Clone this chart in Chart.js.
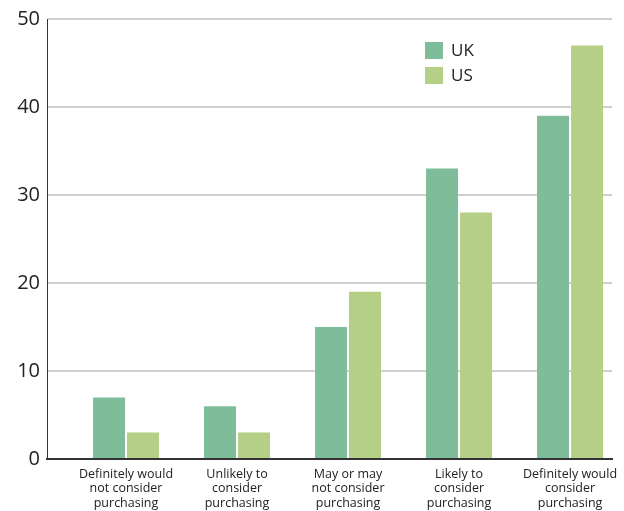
<!DOCTYPE html>
<html lang="en">
<head>
    <meta charset="UTF-8">
    <title>Purchase consideration</title>
    <script src="https://cdn.jsdelivr.net/npm/chart.js"></script>
    <style>
        html, body { margin: 0; padding: 0; background: #fff; }
        .ctn { width: 624px; height: 511px; }
    </style>
</head>
<body>
    <div class="ctn">
        <canvas id="myChart"></canvas>
    </div>
<script>
    // categories + values
    var categories = [
        ['Definitely would', 'not consider', 'purchasing'],
        ['Unlikely to', 'consider', 'purchasing'],
        ['May or may', 'not consider', 'purchasing'],
        ['Likely to', 'consider', 'purchasing'],
        ['Definitely would', 'consider', 'purchasing']
    ];
    var ukValues = [7, 6, 15, 33, 39];
    var usValues = [3, 3, 19, 28, 47];
    var yTicks = [0, 10, 20, 30, 40, 50];

    var fontFamily = "'Open Sans', sans-serif";
    var textColor = '#222';

    function toPoints(arr) {
        return arr.map((v, i) => ({ x: i, y: v }));
    }

    // legend drawn inside the plot, top right
    const innerLegend = {
        id: 'innerLegend',
        afterDraw(chart) {
            const ctx = chart.ctx;
            const area = chart.chartArea;
            let x = area.right - 187;
            let y = area.top + 23;
            ctx.save();
            ctx.font = '17px ' + fontFamily;
            ctx.textBaseline = 'middle';
            chart.data.datasets.forEach((ds, i) => {
                ctx.fillStyle = ds.backgroundColor;
                ctx.fillRect(x, y + i * 25, 18, 17);
                ctx.fillStyle = textColor;
                ctx.fillText(ds.label, x + 26, y + i * 25 + 9);
            });
            ctx.restore();
        }
    };

    var ctx = document.getElementById('myChart').getContext('2d');
    var myChart = new Chart(ctx, {
        type: 'bar',
        data: {
            datasets: [{
                label: 'UK',
                data: toPoints(ukValues),
                backgroundColor: '#7fbd9a'
            }, {
                label: 'US',
                data: toPoints(usValues),
                backgroundColor: '#b5cf87'
            }]
        },
        options: {
            responsive: true,
            maintainAspectRatio: false,
            animation: false,
            categoryPercentage: 0.6126,
            barPercentage: 0.941,
            layout: { padding: { top: 18, right: 12, left: 0, bottom: 0 } },
            plugins: {
                legend: { display: false },
                tooltip: { enabled: false }
            },
            scales: {
                x: {
                    type: 'linear',
                    min: -0.7117,
                    max: 4.378,
                    offset: false,
                    grid: { display: false, offset: false },
                    border: { display: true, color: '#333', width: 2 },
                    ticks: {
                        stepSize: 1,
                        includeBounds: false,
                        autoSkip: false,
                        maxRotation: 0,
                        padding: 0,
                        color: textColor,
                        font: { family: fontFamily, size: 12.5, lineHeight: 1.16 },
                        callback: (v) => (Number.isInteger(v) && categories[v]) ? categories[v] : ''
                    },
                    afterFit: (scale) => { scale.height = 52; }
                },
                y: {
                    min: 0,
                    max: 50,
                    afterBuildTicks: (scale) => { scale.ticks = yTicks.map(v => ({ value: v })); },
                    grid: { color: '#cfcfcf', lineWidth: 2, drawTicks: false },
                    border: { display: true, color: '#333', width: 1 },
                    ticks: {
                        padding: 7,
                        color: textColor,
                        font: { family: fontFamily, size: 20 }
                    },
                    afterFit: (scale) => { scale.width = 47; }
                }
            }
        },
        plugins: [innerLegend]
    });
</script>
</body>
</html>
